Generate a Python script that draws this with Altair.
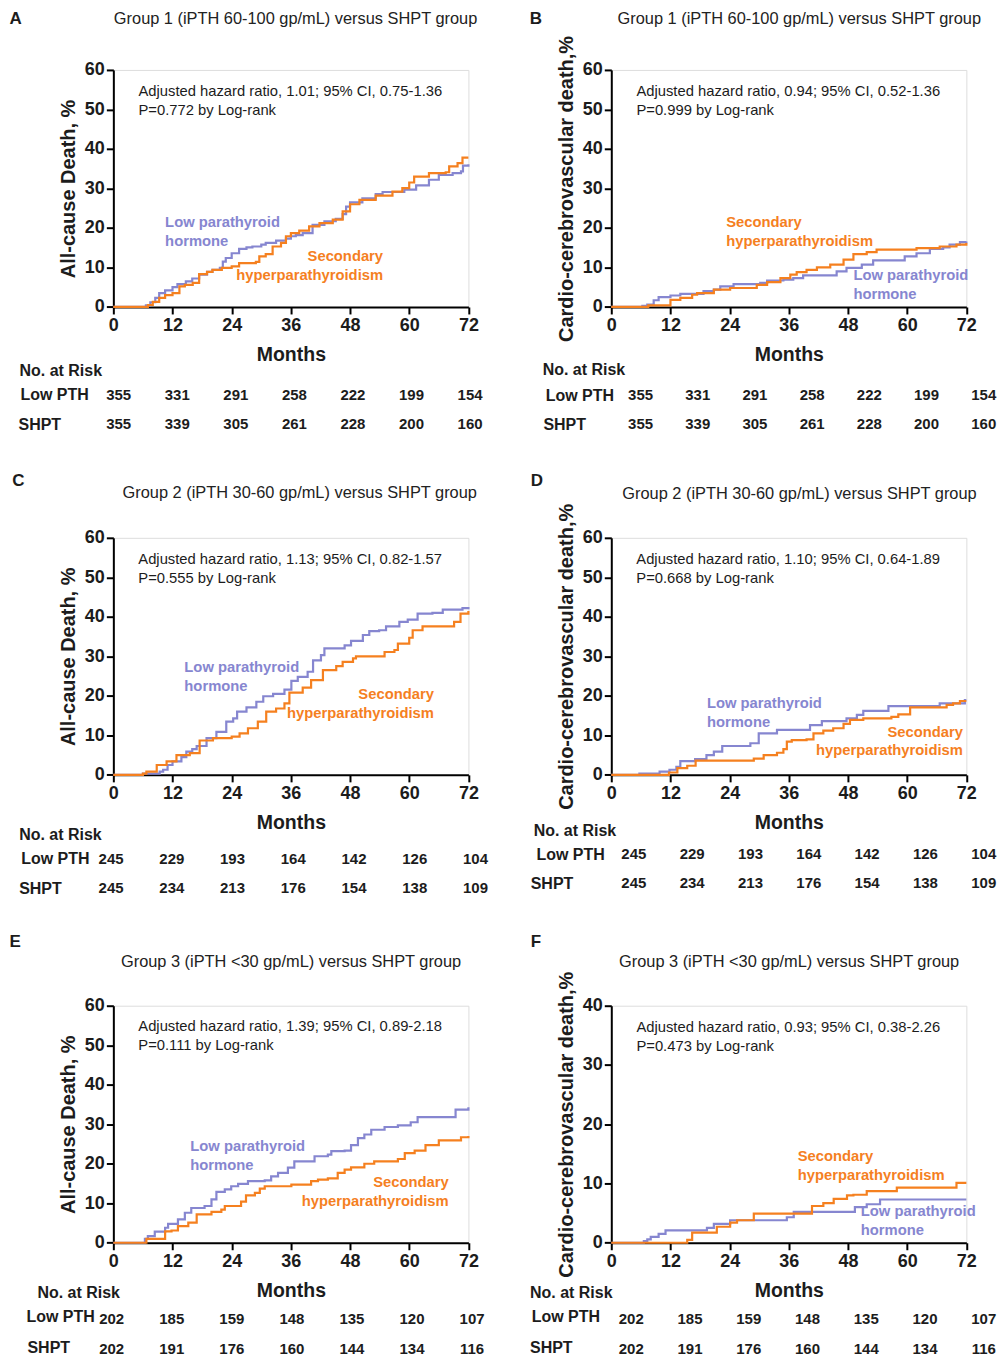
import altair as alt
import pandas as pd

MONTH_TICKS = [0, 12, 24, 36, 48, 60, 72]
ROWS = ["Low PTH", "SHPT"]

# ---------------- Panel A : all-cause death, group 1 ----------------
A_low_m = [0, 6.6, 7.5, 8.5, 9.3, 10.5, 12, 13, 14.7, 16, 17.4, 19, 20.1, 21.6, 22.2, 22.8, 24, 25.5, 27, 28.2, 30, 30.9, 33, 35, 36, 37, 38.4, 40.4, 42.8, 45.1, 46.5, 47.2, 48, 50.5, 53.2, 54.6, 59, 61.4, 64, 66, 68.8, 70.5, 70.9, 72]
A_low_p = [0, 0.4, 1.2, 2.3, 3.5, 4.2, 5, 5.8, 6.5, 7.2, 8.2, 8.9, 9.4, 9.9, 11.5, 12.4, 13.6, 14.7, 15.1, 15.3, 15.8, 16.2, 16.8, 17.3, 17.9, 18.2, 18.7, 20.8, 21.7, 22.3, 23.5, 25.4, 26.5, 27.5, 28.6, 29.1, 29.7, 30.8, 32.2, 33.4, 33.9, 34.3, 35.8, 36.1]
A_shpt_m = [0, 7, 8, 9.3, 10.5, 12, 13.4, 14.5, 16.1, 17.4, 19, 20.1, 22, 24, 25.5, 28.9, 29.6, 30.9, 32.3, 34, 35, 36, 37.7, 39.7, 41.8, 44.5, 46.5, 48, 49.9, 53.2, 56.6, 58.6, 60, 61, 64, 67.4, 68.1, 69.8, 70.8, 72]
A_shpt_p = [0, 0.5, 1.3, 2.3, 3, 3.5, 5.2, 5.6, 6.1, 8.3, 8.9, 9.4, 9.9, 10.3, 11.1, 11.4, 12.8, 13.4, 15.3, 16.2, 17.9, 18.7, 19.3, 20.4, 21.2, 22.1, 24.2, 26, 27.1, 28.2, 29.2, 30.1, 31.5, 33, 33.9, 34.1, 35.6, 36.4, 37.8, 37.8]
A_risk_low = [355, 331, 291, 258, 222, 199, 154]
A_risk_shpt = [355, 339, 305, 261, 228, 200, 160]

# ---------------- Panel B : cardio-cerebrovascular death, group 1 ----------------
B_low_m = [0, 6.3, 7.3, 8.6, 9.6, 12, 14, 18.7, 20.8, 22.1, 24.8, 30.2, 31.6, 34.9, 36.9, 38.9, 45.7, 47.7, 50.8, 53.1, 59.5, 61.9, 64.6, 67.3, 68.6, 70.7, 72]
B_low_p = [0, 0.3, 0.6, 1.7, 2.5, 2.9, 3.3, 4, 4.4, 5.2, 5.8, 6.1, 6.7, 6.9, 7.3, 8, 9, 9.9, 10.7, 11.8, 12.8, 13.6, 14.7, 15.1, 15.8, 16.4, 16.6]
B_shpt_m = [0, 7.5, 12, 14, 16.4, 17.4, 20.8, 24.1, 29.5, 31.6, 34.3, 36.3, 37.6, 39.6, 41.7, 44.4, 47.1, 49.1, 51.8, 53.8, 61.9, 66.6, 70, 72]
B_shpt_p = [0, 0.4, 1.8, 2.3, 3.1, 3.5, 4.4, 4.8, 5.6, 6.3, 7.3, 8.2, 8.8, 9.4, 10, 10.7, 12, 13.4, 13.9, 14.5, 14.9, 15.3, 15.8, 16.2]
B_risk_low = [355, 331, 291, 258, 222, 199, 154]
B_risk_shpt = [355, 339, 305, 261, 228, 200, 160]

# ---------------- Panel C : all-cause death, group 2 ----------------
C_low_m = [0, 6, 9.4, 10.1, 11, 12, 13.8, 14.8, 16, 16.9, 18.9, 20.9, 22.9, 24.3, 25.1, 27, 29, 30.4, 32.4, 34.7, 36.1, 37.4, 39.4, 40.5, 42.1, 42.8, 46.9, 48.2, 50.6, 51.9, 53.9, 55.3, 58, 59.7, 61.7, 64.7, 66.8, 70.8, 72]
C_low_p = [0, 0.3, 0.8, 1.3, 2.5, 3.4, 4.5, 5.9, 6.5, 7.3, 9.3, 10.9, 13.5, 14.3, 16, 17.1, 18.5, 19.9, 20.5, 21.6, 23.8, 24.8, 26.1, 29, 30.3, 32, 32.8, 33.9, 35.4, 36.4, 36.6, 37.6, 38.7, 39.3, 40.8, 41, 41.8, 42.2, 42.5]
C_shpt_m = [0, 6, 6.7, 8.8, 10.8, 12.8, 15.5, 17.5, 20.2, 24, 25.6, 27.3, 29.3, 31, 33, 34.7, 35.7, 38.4, 40.1, 42.5, 45.2, 46.5, 48.6, 49.2, 55, 57, 57.7, 60, 60.7, 62.7, 66.8, 69.1, 70.4, 72]
C_shpt_p = [0, 0.3, 0.8, 2.5, 3.4, 5, 5.5, 8.7, 9.3, 9.7, 10.5, 11.8, 13.5, 16, 16.8, 18.1, 20.8, 22.1, 24, 26.5, 27.5, 28.6, 29.5, 30, 31.1, 31.6, 33.2, 34.7, 36.6, 37.6, 37.6, 38.7, 40.8, 41.5]
C_risk_low = [245, 229, 193, 164, 142, 126, 104]
C_risk_shpt = [245, 234, 213, 176, 154, 138, 109]

# ---------------- Panel D : cardio-cerebrovascular death, group 2 ----------------
D_low_m = [0, 5.7, 9.8, 11.8, 13.2, 14, 17, 19.3, 20.8, 22.5, 28.2, 29.9, 33.6, 40.3, 42.7, 47.7, 49.8, 51.1, 56.2, 66.6, 71.7, 72]
D_low_p = [0, 0.3, 0.8, 1.3, 2, 3.5, 4, 5, 5.9, 7.3, 8, 10.5, 11.4, 12.6, 13.6, 14.3, 15.2, 16.2, 17.4, 18.1, 18.9, 18.9]
D_shpt_m = [0, 11.7, 13.4, 15.4, 17.1, 28.9, 30.9, 33.6, 34.9, 35.6, 36.6, 39.6, 41, 43, 45, 47.1, 48.4, 51.1, 56.8, 58.2, 60.6, 68, 69.3, 70.7, 72]
D_shpt_p = [0, 0.6, 1.7, 2.3, 3.6, 4.1, 5, 5.6, 6.5, 8.4, 8.8, 9, 10.5, 11.2, 11.8, 12.9, 13.9, 14.3, 14.7, 15.3, 17.1, 17.7, 18.1, 18.7, 18.7]
D_risk_low = [245, 229, 193, 164, 142, 126, 104]
D_risk_shpt = [245, 234, 213, 176, 154, 138, 109]

# ---------------- Panel E : all-cause death, group 3 ----------------
E_low_m = [0, 6.4, 7, 8.4, 10.5, 11.1, 13.1, 14.5, 15.8, 18.5, 19.9, 20.9, 22.6, 23.9, 25.3, 27.3, 30.7, 32, 33.4, 35.4, 36.7, 40.8, 43.5, 44.2, 46.9, 48.2, 49.6, 50.9, 52.3, 55, 57.7, 60.3, 61.7, 68.4, 69.4, 72]
E_low_p = [0, 1.0, 1.7, 2.8, 3.8, 4.8, 5.9, 7.6, 8.8, 9.3, 11, 12.9, 13.5, 14.3, 14.9, 15.6, 15.8, 16.8, 17.7, 19, 20.6, 21.9, 22.3, 23.2, 23.3, 24.7, 26.5, 27.4, 28.6, 29.3, 29.7, 30.5, 31.8, 31.8, 33.7, 34.3]
E_shpt_m = [0, 6.7, 9.8, 10.5, 11.8, 13.1, 15.2, 16.9, 19.9, 21.9, 22.6, 25.9, 26.9, 28.7, 29.7, 30.7, 36.1, 40.1, 41.5, 43.5, 45.5, 46.9, 48.2, 50.9, 52.9, 57.7, 59.1, 61.1, 63.3, 66, 70.5, 72]
E_shpt_p = [0, 1.0, 1.0, 2.9, 3.1, 4.2, 5.1, 7.2, 7.8, 8.4, 9.3, 10.4, 12, 12.6, 13.7, 14.3, 14.7, 15.6, 16, 16.3, 17.7, 18.5, 19.1, 20, 20.6, 21.2, 22.7, 23.3, 24.7, 25.9, 26.7, 27]
E_risk_low = [202, 185, 159, 148, 135, 120, 107]
E_risk_shpt = [202, 191, 176, 160, 144, 134, 116]

# ---------------- Panel F : cardio-cerebrovascular death, group 3 ----------------
F_low_m = [0, 6.6, 7.3, 8, 9.6, 11, 19.4, 20.8, 24.1, 35.6, 37, 49.4, 51.8, 54.5, 72]
F_low_p = [0, 0.3, 0.56, 1, 1.5, 2.1, 2.5, 3.2, 3.8, 4.3, 5.2, 6, 6.5, 7.3, 7.3]
F_shpt_m = [0, 15.4, 16.4, 21.4, 24.1, 25.5, 28.9, 38.3, 40.7, 43, 45.1, 47.8, 49.1, 51.8, 57.9, 70, 72]
F_shpt_p = [0, 0.5, 1.7, 2.7, 3.4, 3.8, 4.9, 4.9, 6.2, 6.7, 7.4, 8, 8.1, 8.7, 9.3, 10.1, 10.1]
F_risk_low = [202, 185, 159, 148, 135, 120, 107]
F_risk_shpt = [202, 191, 176, 160, 144, 134, 116]

# ---------------- texts ----------------
TITLE_1 = "Group 1 (iPTH 60-100 gp/mL) versus SHPT group"
TITLE_2 = "Group 2 (iPTH 30-60 gp/mL) versus SHPT group"
TITLE_3 = "Group 3 (iPTH <30 gp/mL) versus SHPT group"
Y_ALL = "All-cause Death, %"
Y_CV = "Cardio-cerebrovascular death,%"
LOW_LABEL = ["Low parathyroid", "hormone"]
SHPT_LABEL = ["Secondary", "hyperparathyroidism"]

# ---------------- style ----------------
W, H = 355.6, 237.4
PURPLE = "#8686d0"
ORANGE = "#f5801f"
INK = "#1c1c1c"
FONT = "Liberation Sans"

PANELS = [
    dict(letter="A", title=TITLE_1, ytitle=Y_ALL, ymax=60,
         low=(A_low_m, A_low_p), shpt=(A_shpt_m, A_shpt_p), risk=(A_risk_low, A_risk_shpt),
         hr=("Adjusted hazard ratio, 1.01; 95% CI, 0.75-1.36", "P=0.772 by Log-rank"), hr_pos=(5.1, 54.5, 49.7),
         low_lab=(10.5, 21.2, 16.4, "left"), shpt_lab=(54.7, 12.55, 7.75, "right"),
         letter_xy=(-104, -51.3), title_xy=(182.5, -51.3), nar_xy=(-94, 301.7),
         rowlab=(-93, 325.9, -95, 355.7), nums=(5.3, 357.3, 326, 355)),
    dict(letter="B", title=TITLE_1, ytitle=Y_CV, ymax=60,
         low=(B_low_m, B_low_p), shpt=(B_shpt_m, B_shpt_p), risk=(B_risk_low, B_risk_shpt),
         hr=("Adjusted hazard ratio, 0.94; 95% CI, 0.52-1.36", "P=0.999 by Log-rank"), hr_pos=(5.1, 54.5, 49.7),
         low_lab=(49.1, 7.9, 3.1, "left"), shpt_lab=(23.3, 21.2, 16.4, "left"),
         letter_xy=(-81.7, -51.3), title_xy=(188.3, -51.3), nar_xy=(-68.7, 301),
         rowlab=(-65.7, 326.7, -68, 355.7), nums=(29.3, 373, 326, 355)),
    dict(letter="C", title=TITLE_2, ytitle=Y_ALL, ymax=60,
         low=(C_low_m, C_low_p), shpt=(C_shpt_m, C_shpt_p), risk=(C_risk_low, C_risk_shpt),
         hr=("Adjusted hazard ratio, 1.13; 95% CI, 0.82-1.57", "P=0.555 by Log-rank"), hr_pos=(5.06, 54.5, 49.7),
         low_lab=(14.4, 27.1, 22.3, "left"), shpt_lab=(65, 20.2, 15.5, "right"),
         letter_xy=(-101.3, -57.4), title_xy=(186.7, -44.4), nar_xy=(-94.3, 298),
         rowlab=(-92.3, 321.3, -94.3, 351.3), nums=(-2.3, 362.7, 321.3, 350.6)),
    dict(letter="D", title=TITLE_2, ytitle=Y_CV, ymax=60,
         low=(D_low_m, D_low_p), shpt=(D_shpt_m, D_shpt_p), risk=(D_risk_low, D_risk_shpt),
         hr=("Adjusted hazard ratio, 1.10; 95% CI, 0.64-1.89", "P=0.668 by Log-rank"), hr_pos=(5.07, 54.4, 49.7),
         low_lab=(19.4, 17.9, 13.0, "left"), shpt_lab=(71.3, 10.6, 6.1, "right"),
         letter_xy=(-80.7, -56.7), title_xy=(188.5, -44), nar_xy=(-77.7, 294),
         rowlab=(-75, 318, -80.7, 346.6), nums=(22.6, 373, 316.3, 345.6)),
    dict(letter="E", title=TITLE_3, ytitle=Y_ALL, ymax=60,
         low=(E_low_m, E_low_p), shpt=(E_shpt_m, E_shpt_p), risk=(E_risk_low, E_risk_shpt),
         hr=("Adjusted hazard ratio, 1.39; 95% CI, 0.89-2.18", "P=0.111 by Log-rank"), hr_pos=(5.06, 54.5, 49.7),
         low_lab=(15.6, 24.2, 19.4, "left"), shpt_lab=(68, 15.2, 10.4, "right"),
         letter_xy=(-104, -64.3), title_xy=(178, -43.6), nar_xy=(-76, 287.4),
         rowlab=(-87, 311.7, -86, 342.4), nums=(-1.7, 359.3, 313.4, 344)),
    dict(letter="F", title=TITLE_3, ytitle=Y_CV, ymax=40,
         low=(F_low_m, F_low_p), shpt=(F_shpt_m, F_shpt_p), risk=(F_risk_low, F_risk_shpt),
         hr=("Adjusted hazard ratio, 0.93; 95% CI, 0.38-2.26", "P=0.473 by Log-rank"), hr_pos=(5.1, 36.3, 33.1),
         low_lab=(50.6, 5.2, 1.97, "left"), shpt_lab=(37.8, 14.5, 11.3, "left"),
         letter_xy=(-80.7, -64.3), title_xy=(178.1, -43.6), nar_xy=(-81.4, 287.4),
         rowlab=(-79.7, 311.7, -81.4, 342.4), nums=(20, 373, 313.4, 344)),
]


def xs():
    return alt.Scale(domain=[0, 72], nice=False, zero=False)


def static_text(txt, xy, size, weight="normal", align="left", font=FONT, color=INK):
    return alt.Chart(pd.DataFrame({"t": [txt]})).mark_text(
        align=align, baseline="middle", fontSize=size, fontWeight=weight, font=font, color=color
    ).encode(x=alt.value(xy[0]), y=alt.value(xy[1]), text="t:N")


def make_panel(p):
    ymax = p["ymax"]

    def ys():
        return alt.Scale(domain=[0, ymax], nice=False, zero=True)

    x_axis = alt.Axis(values=MONTH_TICKS, format="d", title="Months", grid=False,
                      labelFont=FONT, labelFontSize=18, labelFontWeight="bold", labelColor=INK,
                      labelPadding=3, labelFlush=False, labelOverlap=False,
                      domainColor="#000", domainWidth=2, tickColor="#000", tickWidth=2, tickSize=7,
                      titleFont=FONT, titleFontSize=19.5, titleFontWeight="bold", titleColor=INK,
                      titleX=W / 2, titleY=48, titleBaseline="middle", titleAlign="center")
    y_axis = alt.Axis(values=list(range(0, ymax + 1, 10)), format="d", title=p["ytitle"], grid=False,
                      labelFont=FONT, labelFontSize=18, labelFontWeight="bold", labelColor=INK,
                      labelPadding=2, labelOverlap=False,
                      domainColor="#000", domainWidth=2, tickColor="#000", tickWidth=2, tickSize=7,
                      titleFont=FONT, titleFontSize=20, titleFontWeight="bold", titleColor=INK,
                      titleAngle=270, titleX=-45, titleY=H / 2, titleBaseline="middle", titleAlign="center")

    low = pd.DataFrame({"month": p["low"][0], "pct": p["low"][1]})
    shpt = pd.DataFrame({"month": p["shpt"][0], "pct": p["shpt"][1]})

    line_low = alt.Chart(low).mark_line(interpolate="step-after", color=PURPLE, strokeWidth=2.2).encode(
        x=alt.X("month:Q", scale=xs(), axis=x_axis),
        y=alt.Y("pct:Q", scale=ys(), axis=y_axis))
    line_shpt = alt.Chart(shpt).mark_line(interpolate="step-after", color=ORANGE, strokeWidth=2.2).encode(
        x=alt.X("month:Q", scale=xs(), axis=None),
        y=alt.Y("pct:Q", scale=ys(), axis=None))

    hx, hy1, hy2 = p["hr_pos"]
    hr_df = pd.DataFrame({"month": [hx, hx], "pct": [hy1, hy2], "t": list(p["hr"])})
    hr = alt.Chart(hr_df).mark_text(align="left", baseline="middle", fontSize=14.8, font=FONT, color=INK).encode(
        x=alt.X("month:Q", scale=xs(), axis=None), y=alt.Y("pct:Q", scale=ys(), axis=None), text="t:N")

    def curve_label(pos, lines, color):
        m, y1, y2, align = pos
        df = pd.DataFrame({"month": [m, m], "pct": [y1, y2], "t": lines})
        return alt.Chart(df).mark_text(align=align, baseline="middle", fontSize=14.8, fontWeight="bold",
                                       font=FONT, color=color).encode(
            x=alt.X("month:Q", scale=xs(), axis=None), y=alt.Y("pct:Q", scale=ys(), axis=None), text="t:N")

    lab_low = curve_label(p["low_lab"], LOW_LABEL, PURPLE)
    lab_shpt = curve_label(p["shpt_lab"], SHPT_LABEL, ORANGE)

    r0, r1, yl, ysh = p["nums"]
    risk_df = pd.DataFrame({"month": MONTH_TICKS * 2,
                            "n": list(p["risk"][0]) + list(p["risk"][1]),
                            "row": [ROWS[0]] * 7 + [ROWS[1]] * 7})
    nums = alt.Chart(risk_df).mark_text(baseline="middle", align="center", fontSize=15, fontWeight="bold",
                                        font=FONT, color=INK).encode(
        x=alt.X("month:Q", scale=alt.Scale(domain=[0, 72], nice=False, zero=False, range=[r0, r1]), axis=None),
        y=alt.Y("row:N", scale=alt.Scale(type="point", domain=ROWS, range=[yl, ysh], padding=0), axis=None),
        text="n:Q")

    lx1, ly1, lx2, ly2 = p["rowlab"]
    row_df = pd.DataFrame({"row": ROWS})
    rowlabs = alt.Chart(row_df).mark_text(align="left", baseline="middle", fontSize=16, fontWeight="bold",
                                          font=FONT, color=INK).encode(
        x=alt.X("row:N", scale=alt.Scale(type="point", domain=ROWS, range=[lx1, lx2], padding=0), axis=None),
        y=alt.Y("row:N", scale=alt.Scale(type="point", domain=ROWS, range=[ly1, ly2], padding=0), axis=None),
        text="row:N")

    letter = static_text(p["letter"], p["letter_xy"], 17, weight="bold")
    title = static_text(p["title"], p["title_xy"], 16.4, align="center", color="#222")
    nar = static_text("No. at Risk", p["nar_xy"], 16, weight="bold")

    return alt.layer(line_low, line_shpt, hr, lab_low, lab_shpt, nums, rowlabs, letter, title, nar).resolve_scale(
        x="independent", y="independent").properties(width=W, height=H)


chart = alt.concat(*[make_panel(p) for p in PANELS], columns=2, bounds="flush",
                   spacing={"row": 230.6, "column": 142.7}).properties(
    padding={"left": 0.5, "top": 0, "right": 0, "bottom": 0}
).configure_view(stroke=None).configure(font=FONT)

chart.save("out.html", embed_options={"renderer": "svg", "actions": False})
